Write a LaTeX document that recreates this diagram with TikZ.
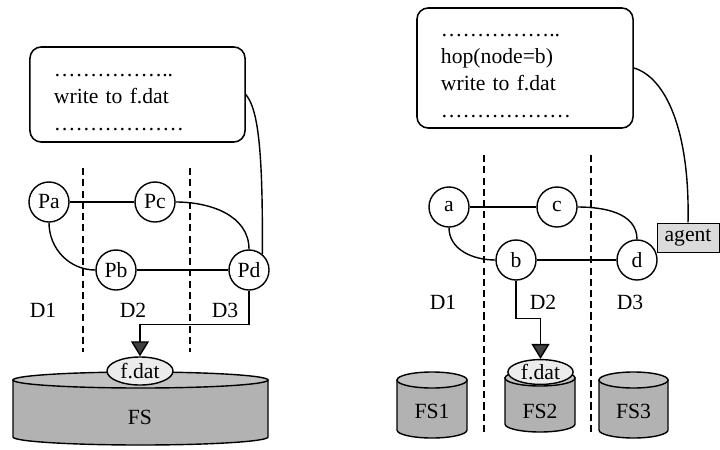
\documentclass[tikz,border=0pt]{standalone}
\usepackage{fontspec}
\setmainfont{Liberation Serif}
\usetikzlibrary{positioning, arrows.meta, shapes.geometric}
\tikzset{
    codebox/.style={rectangle, rounded corners=8pt, draw, line width=1.1pt, align=left, inner xsep=0.6cm, inner ysep=0pt},
    proc/.style={circle, draw, line width=1pt, minimum size=1cm, inner sep=0pt},
    link/.style={line width=1pt},
    wire/.style={line width=1pt, -{Triangle[width=0.45cm, length=0.375cm, fill=black!75]}},
    divider/.style={line width=1pt, dash pattern=on 5pt off 3pt},
    drum/.style={fill=gray!60, draw, line width=1pt},
    drumtop/.style={fill=gray!48, draw, line width=1pt},
    filetag/.style={ellipse, fill=gray!15, draw, line width=1pt, inner sep=0pt},
    agentbox/.style={rectangle, fill=gray!28, draw, line width=0.7pt, minimum width=1.55cm, minimum height=0.725cm, inner sep=0pt},
}
\begin{document}
\begin{tikzpicture}[x=0.025cm, y=0.025cm, font=\fontsize{15.4}{19.2}\selectfont]
    \useasboundingbox (0,0) rectangle (720,449);

    % Domini
    \draw[divider] (83,281) -- (83,97);
    \draw[divider] (190,281) -- (190,97);
    \draw[divider] (484,294) -- (484,16);
    \draw[divider] (591,294) -- (591,16);
    \node (dL1) at (43,139) {D1};
    \node (dL2) at (133,139) {D2};
    \node (dL3) at (225,139) {D3};
    \node (dR1) at (443,147) {D1};
    \node (dR2) at (543,147) {D2};
    \node (dR3) at (630,147) {D3};

    % File system
    \filldraw[drum] (13,69) -- (13,12) arc[start angle=180, end angle=360, x radius=127.5, y radius=8] -- (268,69) -- cycle;
    \filldraw[drumtop] (140.5,69) ellipse [x radius=127.5, y radius=8];
    \filldraw[drum] (397,69) -- (397,19) arc[start angle=180, end angle=360, x radius=35, y radius=8] -- (467,69) -- cycle;
    \filldraw[drumtop] (432,69) ellipse [x radius=35, y radius=8];
    \filldraw[drum] (505,71) -- (505,25) arc[start angle=180, end angle=360, x radius=35, y radius=8] -- (575,71) -- cycle;
    \filldraw[drumtop] (540,71) ellipse [x radius=35, y radius=8];
    \filldraw[drum] (599,69) -- (599,19) arc[start angle=180, end angle=360, x radius=34.5, y radius=8] -- (668,69) -- cycle;
    \filldraw[drumtop] (633.5,69) ellipse [x radius=34.5, y radius=8];
    \node (fsL) at (140,32) {FS};
    \node (fs1) at (432,38) {FS1};
    \node (fs2) at (540,38) {FS2};
    \node (fs3) at (633.5,38) {FS3};
    \node[filetag, minimum width=1.65cm, minimum height=0.7cm] (fdatL) at (140,78) {f.dat};
    \node[filetag, minimum width=1.63cm, minimum height=0.62cm] (fdatR) at (540.5,77) {f.dat};

    % Programmi
    \node[codebox, minimum width=5.375cm, minimum height=2.375cm, text width=4.175cm] (progL) at (137.5,354.5)
        {\rule{0pt}{19pt}……………..\\write to f.dat\\………………\strut};
    \node[codebox, minimum width=5.4cm, minimum height=3cm, text width=4.2cm] (progR) at (525,381)
        {\rule{0pt}{19pt}……………..\\hop(node=b)\\write to f.dat\\………………\strut};

    % Processi
    \node[proc] (Pa) at (49,247) {Pa};
    \node[proc] (Pc) at (155,247) {Pc};
    \node[proc] (Pb) at (116,179) {Pb};
    \node[proc] (Pd) at (249,179) {Pd};
    \node[proc] (a) at (449,242) {a};
    \node[proc] (c) at (557,242) {c};
    \node[proc] (b) at (516,189) {b};
    \node[proc] (d) at (637,189) {d};
    \node[agentbox] (agent) at (688,211.5) {agent};

    % Collegamenti
    \draw[link] (Pa) -- (Pc);
    \draw[link] (Pb) -- (Pd);
    \draw[link] (Pa.south) to[out=-90, in=180] (Pb.west);
    \draw[link] (Pc.east) to[out=0, in=90] (Pd.north);
    \draw[link] (a) -- (c);
    \draw[link] (b) -- (d);
    \draw[link] (a.south) to[out=-90, in=180] (b.west);
    \draw[link] (c.east) to[out=0, in=90] (d.north);
    \draw[link] (progL.east) .. controls (258,340) and (263,300) .. (Pd.50);
    \draw[link] (progR.east) .. controls (665,372) and (690,320) .. (agent.north);

    % Scrittura su f.dat
    \draw[wire] (Pd.south) -- ++(0,-34) -| (fdatL.north);
    \draw[wire] (b.south) -- ++(0,-38) -| (fdatR.north);
\end{tikzpicture}
\end{document}
